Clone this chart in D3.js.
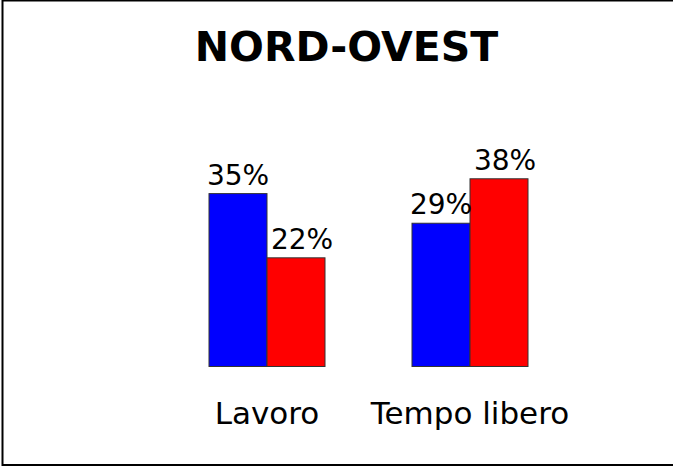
<!DOCTYPE html>
<html>
<head>
<meta charset="utf-8">
<script src="https://cdn.jsdelivr.net/npm/d3@7"></script>
<style>
  html, body { margin: 0; padding: 0; background: #fff; }
  svg { display: block; }
</style>
</head>
<body>
<svg id="chart" width="673" height="467"></svg>
<script>
// Chart data
var categories = ["Lavoro", "Tempo libero"];
var seriesNames = ["blu", "rosso"];
var blueValues = [35, 29];
var redValues = [22, 38];
var title = "NORD-OVEST";

var colours = ["#0000ff", "#ff0000"];
var font = "'Comic Sans MS', 'DejaVu Sans', sans-serif";

var svg = d3.select("svg#chart");

// Frame round the slide (right edge falls outside the picture)
svg.append("rect")
  .attr("x", 2.5)
  .attr("y", 0.5)
  .attr("width", 680)
  .attr("height", 464.5)
  .attr("fill", "none")
  .attr("stroke", "#000")
  .attr("stroke-width", 2);

// Title
svg.append("text")
  .attr("x", 346.5)
  .attr("y", 61)
  .attr("text-anchor", "middle")
  .attr("font-family", font)
  .attr("font-weight", "bold")
  .attr("font-size", 41)
  .text(title);

// Scales
var x0 = d3.scaleBand()
  .domain(categories)
  .range([209, 528])
  .paddingInner(87 / 203)
  .paddingOuter(0);

var x1 = d3.scaleBand()
  .domain(seriesNames)
  .range([0, x0.bandwidth()]);

var y = d3.scaleLinear()
  .domain([0, 40])
  .range([366.5, 366.5 - 40 * 4.94]);

// One row per bar
var rows = [];
categories.forEach(function(c, i){
  rows.push({cat: c, s: 0, v: blueValues[i]});
  rows.push({cat: c, s: 1, v: redValues[i]});
});

var bars = svg.selectAll("rect.bar")
  .data(rows);

bars.enter().append("rect")
  .attr("class", "bar")
  .attr("x", d => x0(d.cat) + x1(seriesNames[d.s]))
  .attr("y", d => y(d.v))
  .attr("width", x1.bandwidth())
  .attr("height", d => y(0) - y(d.v))
  .attr("fill", d => colours[d.s])
  .attr("stroke", "#333")
  .attr("stroke-width", 1);

// Value labels above bars
var labels = svg.selectAll("text.valueLabel")
  .data(rows);

labels.enter().append("text")
  .attr("class", "valueLabel")
  .attr("x", d => x0(d.cat) + x1(seriesNames[d.s]) + x1.bandwidth() / 2 + (d.s === 0 ? 0 : 6))
  .attr("y", d => y(d.v) - 9)
  .attr("text-anchor", "middle")
  .attr("font-family", font)
  .attr("font-size", 28)
  .text(d => d.v + "%");

// Category labels
var catLabels = svg.selectAll("text.catLabel")
  .data(categories);

catLabels.enter().append("text")
  .attr("class", "catLabel")
  .attr("x", d => x0(d) + x0.bandwidth() / 2)
  .attr("y", 424)
  .attr("text-anchor", "middle")
  .attr("font-family", font)
  .attr("font-size", 31)
  .text(d => d);
</script>
</body>
</html>
